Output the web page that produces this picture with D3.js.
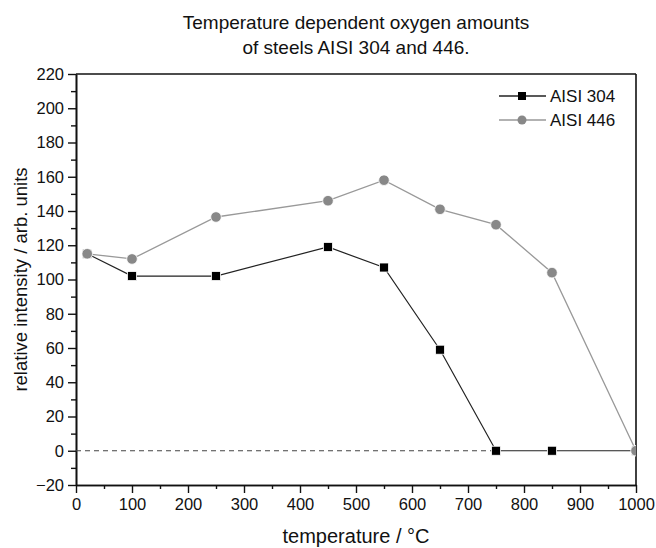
<!DOCTYPE html>
<html lang="en">
	<head>
		<meta charset="utf-8">
		<title>Oxygen amounts of AISI 304 and 446</title>
		<script type="text/javascript" src="https://cdn.jsdelivr.net/npm/d3@7"></script>
		<style type="text/css">
			body { margin: 0; background: #fff; }
			svg text { font-family: "Liberation Sans", Arial, sans-serif; fill: #111; }
		</style>
	</head>
	<body>
		<script type="text/javascript">

			//Data
			var temps304 = [20, 100, 250, 450, 550, 650, 750, 850, 1000];
			var values304 = [115, 102, 102, 119, 107, 59, 0, 0, 0];
			var temps446 = [20, 100, 250, 450, 550, 650, 750, 850, 1000];
			var values446 = [115, 112, 136.5, 146, 158, 141, 132, 104, 0];
			var seriesNames = ["AISI 304", "AISI 446"];
			var xTicks = d3.range(0, 1001, 100);
			var yTicks = d3.range(-20, 221, 20);

			var w = 656;
			var h = 548;
			var padLeft = 76, padRight = 636, padTop = 74, padBottom = 485;

			var xScale = d3.scaleLinear().domain([0, 1000]).range([padLeft, padRight]);
			var yScale = d3.scaleLinear().domain([-20, 220]).range([padBottom, padTop]);

			var svg = d3.select("body")
						.append("svg")
						.attr("width", w)
						.attr("height", h);

			//Title
			svg.append("text")
			   .attr("x", (padLeft + padRight) / 2)
			   .attr("y", 29)
			   .attr("text-anchor", "middle")
			   .attr("font-size", "19px")
			   .text("Temperature dependent oxygen amounts");
			svg.append("text")
			   .attr("x", (padLeft + padRight) / 2)
			   .attr("y", 54)
			   .attr("text-anchor", "middle")
			   .attr("font-size", "19px")
			   .text("of steels AISI 304 and 446.");

			//Clip for the plot area
			svg.append("clipPath")
			   .attr("id", "plotclip")
			   .append("rect")
			   .attr("x", padLeft)
			   .attr("y", padTop)
			   .attr("width", padRight - padLeft)
			   .attr("height", padBottom - padTop);

			//Minor ticks
			var xAxisMinor = d3.axisBottom(xScale)
								.tickValues(d3.range(50, 1000, 100))
								.tickSize(4)
								.tickSizeOuter(0)
								.tickFormat("");
			var yAxisMinor = d3.axisLeft(yScale)
								.tickValues(d3.range(-10, 220, 20))
								.tickSize(5)
								.tickSizeOuter(0)
								.tickFormat("");

			var xAxis = d3.axisBottom(xScale)
							.tickValues(xTicks)
							.tickSize(8)
							.tickSizeOuter(0)
							.tickPadding(5)
							.tickFormat(d3.format("d"));
			var yAxis = d3.axisLeft(yScale)
							.tickValues(yTicks)
							.tickSize(8)
							.tickSizeOuter(0)
							.tickPadding(4)
							.tickFormat(d3.format("d"));

			svg.append("g").attr("transform", "translate(0," + padBottom + ")").call(xAxisMinor);
			svg.append("g").attr("transform", "translate(" + padLeft + ",0)").call(yAxisMinor);
			var gx = svg.append("g").attr("transform", "translate(0," + padBottom + ")").call(xAxis);
			var gy = svg.append("g").attr("transform", "translate(" + padLeft + ",0)").call(yAxis);

			svg.selectAll(".tick line").attr("stroke", "#111").attr("stroke-width", 1.4);
			svg.selectAll(".domain").attr("stroke", "#111").attr("stroke-width", 1.6);
			gx.selectAll("text").attr("font-size", "16.5px").attr("fill", "#111");
			gy.selectAll("text").attr("font-size", "16.5px").attr("fill", "#111");

			//Top and right frame
			svg.append("line")
			   .attr("x1", padLeft).attr("x2", padRight)
			   .attr("y1", padTop).attr("y2", padTop)
			   .attr("stroke", "#111").attr("stroke-width", 1.6);
			svg.append("line")
			   .attr("x1", padRight).attr("x2", padRight)
			   .attr("y1", padTop).attr("y2", padBottom)
			   .attr("stroke", "#111").attr("stroke-width", 1.6);

			//Axis titles
			svg.append("text")
			   .attr("x", (padLeft + padRight) / 2)
			   .attr("y", 543)
			   .attr("text-anchor", "middle")
			   .attr("font-size", "20px")
			   .text("temperature / °C");
			svg.append("text")
			   .attr("transform", "translate(27," + (padTop + padBottom) / 2 + ") rotate(-90)")
			   .attr("text-anchor", "middle")
			   .attr("font-size", "18.5px")
			   .text("relative intensity / arb. units");

			var plot = svg.append("g").attr("clip-path", "url(#plotclip)");

			//Dashed zero line
			plot.append("line")
			   .attr("x1", padLeft)
			   .attr("x2", xScale(750))
			   .attr("y1", yScale(0))
			   .attr("y2", yScale(0))
			   .attr("stroke", "#444")
			   .attr("stroke-width", 1.2)
			   .attr("stroke-dasharray", "5,4");

			var line = d3.line()
						.x(function(d) { return xScale(d[0]); })
						.y(function(d) { return yScale(d[1]); });

			var data304 = d3.zip(temps304, values304);
			var data446 = d3.zip(temps446, values446);

			plot.append("path")
			   .datum(data304)
			   .attr("d", line)
			   .attr("fill", "none")
			   .attr("stroke", "#222")
			   .attr("stroke-width", 1.2);

			plot.append("path")
			   .datum(data446)
			   .attr("d", line)
			   .attr("fill", "none")
			   .attr("stroke", "#999")
			   .attr("stroke-width", 1.3);

			var sq = 9;
			plot.selectAll("rect.p304")
			   .data(data304)
			   .enter()
			   .append("rect")
			   .attr("class", "p304")
			   .attr("x", function(d) { return xScale(d[0]) - sq / 2; })
			   .attr("y", function(d) { return yScale(d[1]) - sq / 2; })
			   .attr("width", sq)
			   .attr("height", sq)
			   .attr("fill", "#000")
			   .attr("stroke", "#fff")
			   .attr("stroke-width", 0.8);

			plot.selectAll("circle.p446")
			   .data(data446)
			   .enter()
			   .append("circle")
			   .attr("class", "p446")
			   .attr("cx", function(d) { return xScale(d[0]); })
			   .attr("cy", function(d) { return yScale(d[1]); })
			   .attr("r", 5.3)
			   .attr("fill", "#888")
			   .attr("stroke", "#fff")
			   .attr("stroke-width", 0.8);

			//Legend
			var legendY = [96, 120];
			var legend = svg.selectAll("g.legend")
							.data(seriesNames)
							.enter()
							.append("g")
							.attr("class", "legend")
							.attr("transform", function(d, i) { return "translate(0," + legendY[i] + ")"; });

			legend.append("line")
				  .attr("x1", 499).attr("x2", 546)
				  .attr("y1", 0).attr("y2", 0)
				  .attr("stroke", function(d, i) { return i == 0 ? "#222" : "#999"; })
				  .attr("stroke-width", 1.3);

			legend.filter(function(d, i) { return i == 0; })
				  .append("rect")
				  .attr("x", 522 - 4).attr("y", -4)
				  .attr("width", 8).attr("height", 8)
				  .attr("fill", "#000");

			legend.filter(function(d, i) { return i == 1; })
				  .append("circle")
				  .attr("cx", 522).attr("cy", 0)
				  .attr("r", 4.5)
				  .attr("fill", "#888");

			legend.append("text")
				  .attr("x", 550)
				  .attr("y", 6)
				  .attr("font-size", "17px")
				  .text(function(d) { return d; });

		</script>
	</body>
</html>
